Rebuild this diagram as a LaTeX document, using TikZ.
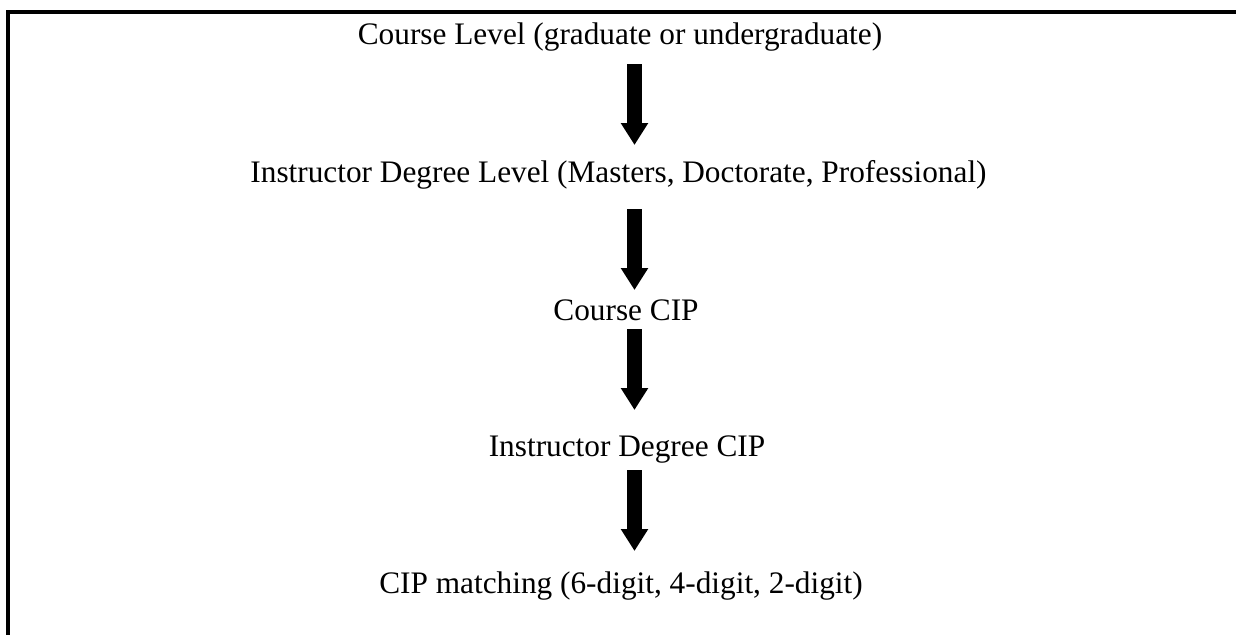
\documentclass[tikz,border=0pt]{standalone}
\usepackage{fontspec}
\setmainfont{Liberation Serif}
\usetikzlibrary{arrows.meta}
\begin{document}
\begin{tikzpicture}[x=0.5pt,y=-0.5pt,
  lbl/.style={anchor=base,inner sep=0pt,font=\fontsize{15.65}{18}\selectfont},
  bigarrow/.style={line width=7.5pt,line cap=butt,-{Triangle[width=13pt,length=11pt]}}]
\useasboundingbox (0,0) rectangle (1236,634);
\draw[line width=2pt,miter limit=10] (1240,12) -- (8,12) -- (8,640);
\node[lbl] (t1) at (620,44) {Course Level (graduate or undergraduate)};
\node[lbl] (t2) at (618.5,182) {Instructor Degree Level (Masters, Doctorate, Professional)};
\node[lbl] (t3) at (626,320) {Course CIP};
\node[lbl] (t4) at (627,456) {Instructor Degree CIP};
\node[lbl] (t5) at (621,593) {CIP matching (6-digit, 4-digit, 2-digit)};
\coordinate (a1s) at (634.5,64);  \coordinate (a1e) at (634.5,145);
\coordinate (a2s) at (634.5,209); \coordinate (a2e) at (634.5,290);
\coordinate (a3s) at (634.5,329); \coordinate (a3e) at (634.5,410);
\coordinate (a4s) at (634.5,470); \coordinate (a4e) at (634.5,551);
\draw[bigarrow] (a1s) -- (a1e);
\draw[bigarrow] (a2s) -- (a2e);
\draw[bigarrow] (a3s) -- (a3e);
\draw[bigarrow] (a4s) -- (a4e);
\end{tikzpicture}
\end{document}
